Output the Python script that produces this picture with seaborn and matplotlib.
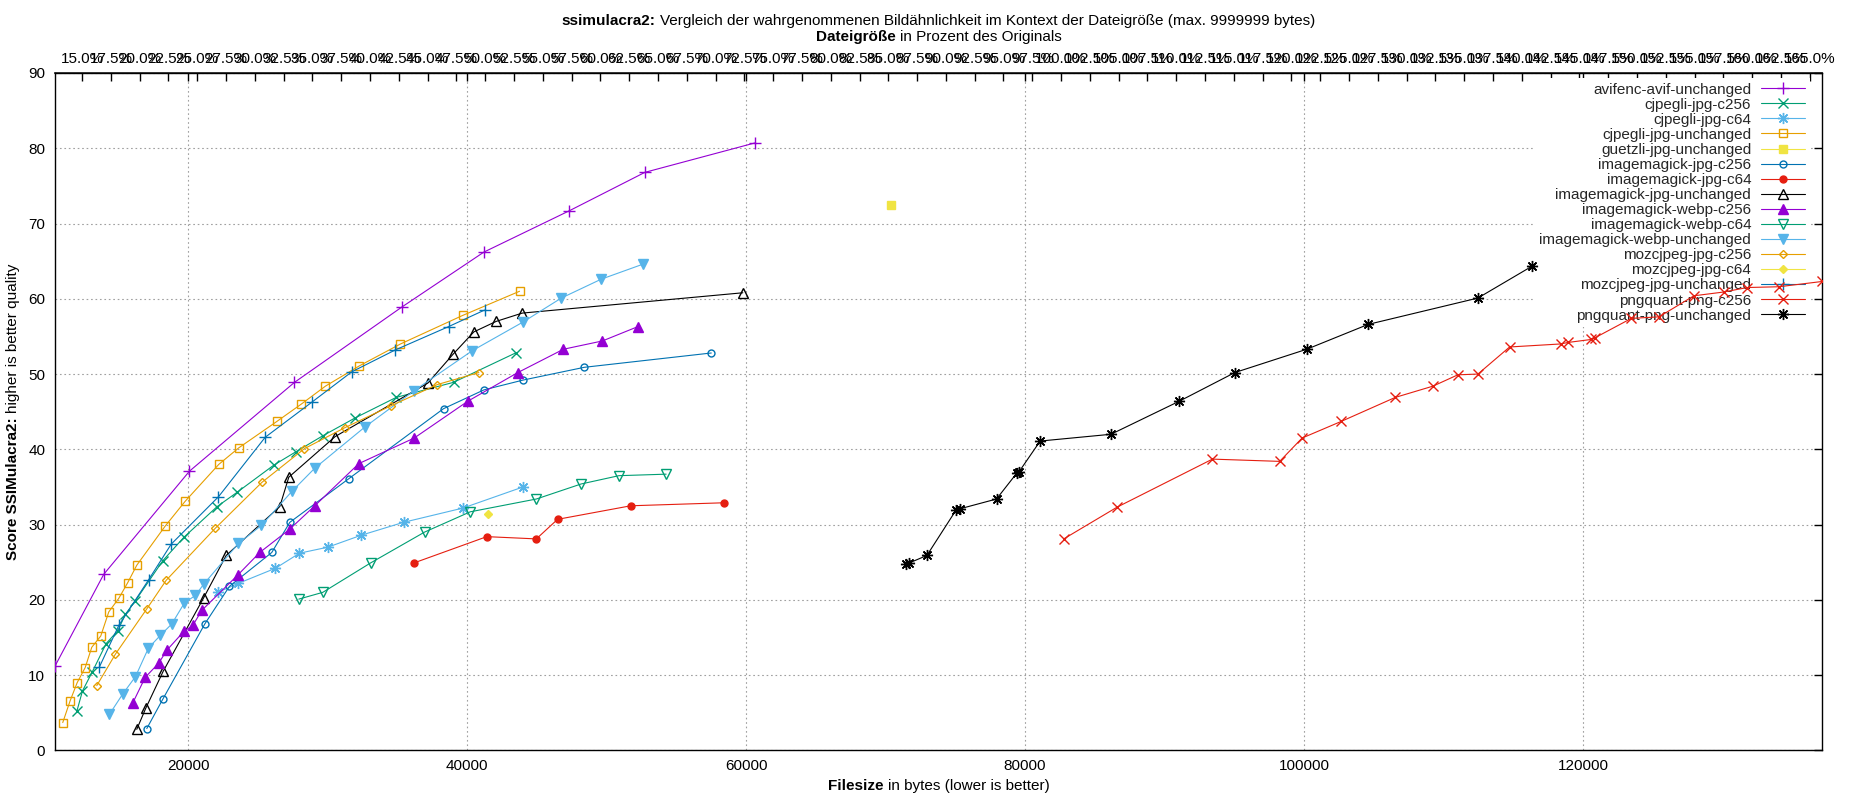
import numpy as np
import pandas as pd
import matplotlib
matplotlib.use("Agg")
import matplotlib.pyplot as plt
from matplotlib.ticker import FuncFormatter
import seaborn as sns

# ---------------- data ----------------
ORIG_SIZE = 82580  # bytes of the original (for the percent axis)

avif_x = [10444, 13940, 20086, 27616, 35310, 41191, 47326, 52740, 60608]
avif_y = [11.2, 23.4, 37.1, 48.9, 58.9, 66.2, 71.7, 76.8, 80.7]

cjpegli_c256_x = [12025, 12414, 13108, 14113, 14945, 15497, 16214, 18172, 19678, 22072, 23507,
                  26131, 27738, 29645, 31990, 34909, 39018, 43464]
cjpegli_c256_y = [5.3, 7.9, 10.4, 14.2, 15.9, 18.1, 19.9, 25.2, 28.3, 32.4, 34.3,
                  37.9, 39.7, 41.8, 44.2, 46.9, 48.9, 52.8]

cjpegli_c64_x = [22117, 23600, 26253, 27974, 30004, 32420, 35432, 39700, 44000]
cjpegli_c64_y = [21.0, 22.2, 24.2, 26.2, 27.0, 28.6, 30.3, 32.2, 35.0]

cjpegli_unch_x = [11000, 11531, 12033, 12607, 13080, 13725, 14299, 15016, 15662, 16307, 18344,
                  19778, 22187, 23622, 26347, 28096, 29839, 32277, 35216, 39686, 43751]
cjpegli_unch_y = [3.7, 6.6, 9.0, 11.0, 13.7, 15.2, 18.4, 20.2, 22.3, 24.6, 29.8,
                  33.1, 38.0, 40.2, 43.7, 46.0, 48.4, 51.1, 54.0, 57.8, 61.0]

guetzli_x = [70422]
guetzli_y = [72.4]

im_jpg_c256_x = [17025, 18172, 21184, 22954, 25988, 27279, 31510, 38300, 41200, 44000, 48400, 57500]
im_jpg_c256_y = [2.9, 6.8, 16.8, 21.8, 26.3, 30.3, 36.1, 45.4, 47.9, 49.2, 50.9, 52.8]

im_jpg_c64_x = [36172, 41404, 44957, 46480, 51725, 58408]
im_jpg_c64_y = [24.9, 28.4, 28.1, 30.7, 32.5, 32.9]

im_jpg_unch_x = [16307, 16952, 18198, 21111, 22718, 26562, 27207, 30534, 37175, 38968, 40474,
                 42078, 43943, 59762]
im_jpg_unch_y = [2.8, 5.6, 10.5, 20.3, 25.9, 32.4, 36.3, 41.7, 48.8, 52.6, 55.6,
                 57.0, 58.1, 60.8]

im_webp_c256_x = [16020, 16909, 17885, 18458, 19677, 20323, 20968, 23550, 25127, 27279, 29072,
                  32227, 36199, 40050, 43629, 46903, 49695, 52233]
im_webp_c256_y = [6.3, 9.7, 11.6, 13.3, 15.8, 16.6, 18.6, 23.3, 26.3, 29.4, 32.5,
                  38.1, 41.5, 46.4, 50.2, 53.3, 54.4, 56.3]

im_webp_c64_x = [27925, 29645, 33066, 36938, 40219, 44957, 48172, 50879, 54263]
im_webp_c64_y = [20.1, 21.0, 24.9, 29.0, 31.7, 33.4, 35.4, 36.5, 36.7]

im_webp_unch_x = [14349, 15303, 16214, 17146, 18006, 18817, 19727, 20516, 21111, 23600, 25249,
                  27422, 29072, 32685, 36199, 40358, 43990, 46750, 49600, 52600]
im_webp_unch_y = [4.8, 7.5, 9.8, 13.6, 15.3, 16.8, 19.6, 20.6, 22.1, 27.5, 29.9,
                  34.4, 37.5, 43.0, 47.8, 53.1, 56.9, 60.1, 62.6, 64.6]

moz_c256_x = [13437, 14779, 17025, 18415, 21929, 25271, 28333, 31252, 34550, 37849, 40832]
moz_c256_y = [8.6, 12.8, 18.8, 22.6, 29.5, 35.6, 40.1, 42.9, 45.8, 48.6, 50.2]

moz_c64_x = [41500]
moz_c64_y = [31.4]

moz_unch_x = [13632, 15016, 17167, 18774, 22166, 25514, 28885, 31725, 34837, 38659, 41240]
moz_unch_y = [11.1, 16.6, 22.7, 27.4, 33.7, 41.6, 46.3, 50.3, 53.2, 56.3, 58.5]

png_c256_x = [82773, 86580, 93433, 98255, 99862, 102654, 106546, 109253, 111030, 112468, 114743,
              118400, 118926, 120601, 120839, 123470, 125450, 127960, 130090, 131790, 134055, 137140]
png_c256_y = [28.1, 32.3, 38.7, 38.4, 41.5, 43.7, 46.9, 48.4, 49.9, 50.0, 53.6,
              54.0, 54.2, 54.6, 54.8, 57.4, 57.6, 60.4, 60.9, 61.5, 61.6, 62.3]

png_unch_x = [71437, 71690, 72960, 75075, 75330, 77951, 79389, 79560, 81081, 86157, 91064,
              95040, 100200, 104600, 112468, 116319]
png_unch_y = [24.8, 24.9, 25.9, 32.0, 32.1, 33.4, 36.8, 37.0, 41.1, 42.0, 46.4,
              50.2, 53.3, 56.6, 60.1, 64.3]

series_names = [
    "avifenc-avif-unchanged", "cjpegli-jpg-c256", "cjpegli-jpg-c64", "cjpegli-jpg-unchanged",
    "guetzli-jpg-unchanged", "imagemagick-jpg-c256", "imagemagick-jpg-c64",
    "imagemagick-jpg-unchanged", "imagemagick-webp-c256", "imagemagick-webp-c64",
    "imagemagick-webp-unchanged", "mozcjpeg-jpg-c256", "mozcjpeg-jpg-c64",
    "mozcjpeg-jpg-unchanged", "pngquant-png-c256", "pngquant-png-unchanged",
]
series_x = [avif_x, cjpegli_c256_x, cjpegli_c64_x, cjpegli_unch_x, guetzli_x, im_jpg_c256_x,
            im_jpg_c64_x, im_jpg_unch_x, im_webp_c256_x, im_webp_c64_x, im_webp_unch_x,
            moz_c256_x, moz_c64_x, moz_unch_x, png_c256_x, png_unch_x]
series_y = [avif_y, cjpegli_c256_y, cjpegli_c64_y, cjpegli_unch_y, guetzli_y, im_jpg_c256_y,
            im_jpg_c64_y, im_jpg_unch_y, im_webp_c256_y, im_webp_c64_y, im_webp_unch_y,
            moz_c256_y, moz_c64_y, moz_unch_y, png_c256_y, png_unch_y]

# ---------------- styles ----------------
gp_colors = ["#9400d3", "#009e73", "#56b4e9", "#e69f00", "#f0e442", "#0072b2", "#e51e10", "#000000"]
ASTER = (8, 2, 0)
# (marker, filled, size)
gp_markers = [("+", True, 8), ("x", True, 7), (ASTER, True, 8), ("s", False, 6),
              ("s", True, 6), ("o", False, 5), ("o", True, 5), ("^", False, 7),
              ("^", True, 7), ("v", False, 7), ("v", True, 7), ("D", False, 4.5),
              ("D", True, 4.5), ("+", True, 8), ("x", True, 7), (ASTER, True, 8)]

sns.set_theme(style="white")
plt.rcParams['font.family'] = ['Liberation Sans', 'DejaVu Sans']
plt.rcParams['font.size'] = 11

W, H = 1850, 800
fig = plt.figure(figsize=(W / 100, H / 100), dpi=100)
L, R, T, B = 55, 1822, 73, 750.4
ax = fig.add_axes([L / W, 1 - B / H, (R - L) / W, (B - T) / H])

handles = []
for i, (name, xs, ys) in enumerate(zip(series_names, series_x, series_y)):
    col = gp_colors[i % 8]
    mk, filled, ms = gp_markers[i]
    df = pd.DataFrame({"size": xs, "score": ys})
    sns.lineplot(data=df, x="size", y="score", ax=ax, color=col, marker=mk, markersize=ms,
                 markerfacecolor=col if filled else "none", markeredgecolor=col,
                 markeredgewidth=1.0, linewidth=0.8, sort=False, estimator=None,
                 legend=False, zorder=3)
    line = ax.lines[-1]
    line.set_label(name)
    handles.append(line)

all_x = np.concatenate([np.asarray(v, float) for v in series_x])
ax.set_xlim(all_x.min(), all_x.max())
ax.set_ylim(0, 90)
ax.set_xticks(np.arange(20000, 120001, 20000))
ax.set_yticks(np.arange(0, 91, 10))
ax.xaxis.set_major_formatter(FuncFormatter(lambda v, p: f"{int(v)}"))
ax.set_xlabel("")
ax.set_ylabel("")
ax.tick_params(axis="both", direction="in", length=6, width=1, color="black",
               top=True, right=True, labelsize=11, labelcolor="black")
ax.tick_params(axis="x", pad=6)
ax.tick_params(axis="y", pad=7)
for sp in ax.spines.values():
    sp.set_visible(True)
    sp.set_color("black")
    sp.set_linewidth(1)
ax.set_axisbelow(True)
ax.grid(True, color="#a0a0a0", linestyle=(0, (1.5, 2.5)), linewidth=0.8)

sec = ax.secondary_xaxis("top", functions=(lambda x: x / ORIG_SIZE * 100,
                                           lambda p: p * ORIG_SIZE / 100))
sec.set_xticks(np.arange(15, 166, 2.5))
sec.xaxis.set_major_formatter(FuncFormatter(lambda v, p: f"{v:.1f}%"))
sec.tick_params(direction="in", length=6, width=1, pad=5, labelsize=11, colors="black")

leg = ax.legend(handles, series_names, loc="upper right",
                bbox_to_anchor=(1810 / W, 1 - 78 / H), bbox_transform=fig.transFigure,
                markerfirst=False, frameon=True, facecolor="white", edgecolor="none",
                framealpha=1, fancybox=False, handlelength=2.9, handletextpad=0.65,
                labelspacing=0.07, borderpad=0.3, borderaxespad=0, fontsize=11)
leg.set_zorder(2)


# ---------------- mixed bold / regular texts ----------------
def mixed_text(parts, cx, cy, rotation=0, size=11):
    renderer = fig.canvas.get_renderer()

    def width(s, w):
        t = fig.text(0, 0, s, fontsize=size, fontweight=w)
        wd = t.get_window_extent(renderer).width
        t.remove()
        return wd

    space = width("a a", "normal") - width("aa", "normal")
    widths = [width(s, w) for s, w in parts]
    total = sum(widths) + space * (len(parts) - 1)
    pos = -total / 2
    for (s, w), wd in zip(parts, widths):
        if rotation == 0:
            fig.text((cx + pos) / W, 1 - cy / H, s, fontsize=size, fontweight=w,
                     ha="left", va="center", color="black")
        else:
            fig.text(cx / W, 1 - cy / H + pos / H, s, fontsize=size, fontweight=w,
                     ha="left", va="center", rotation=90, rotation_mode="anchor",
                     color="black")
        pos += wd + space


cx_axes = (L + R) / 2
mixed_text([("ssimulacra2:", "bold"),
            ("Vergleich der wahrgenommenen Bildähnlichkeit im Kontext der Dateigröße (max. 9999999 bytes)", "normal")],
           cx_axes, 21)
mixed_text([("Dateigröße", "bold"), ("in Prozent des Originals", "normal")], cx_axes, 37)
mixed_text([("Filesize", "bold"), ("in bytes (lower is better)", "normal")], cx_axes, 786)
mixed_text([("Score SSIMulacra2:", "bold"), ("higher is better quality", "normal")],
           13, (T + B) / 2, rotation=90)

fig.savefig("out.png", dpi=100, facecolor="white")
